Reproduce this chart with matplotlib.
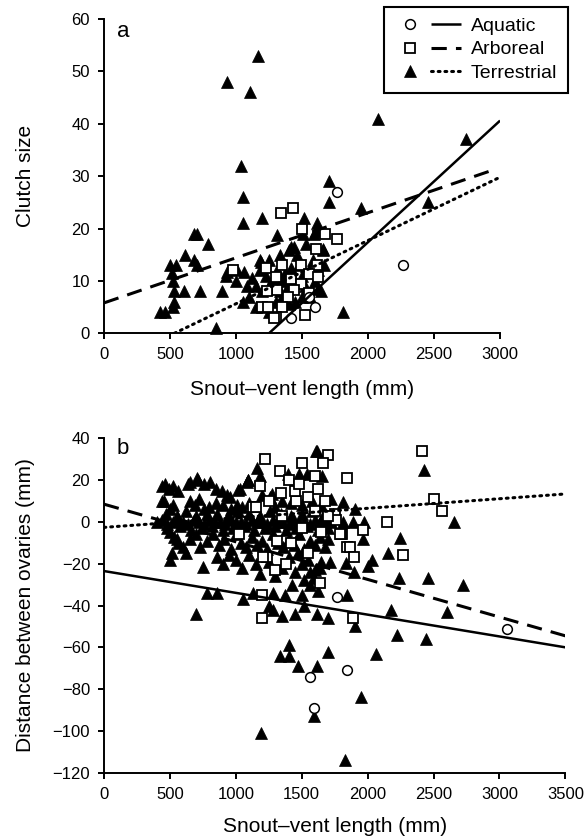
import matplotlib

matplotlib.use("Agg")
import matplotlib.pyplot as plt  # noqa: E402
from matplotlib.lines import Line2D  # noqa: E402
from matplotlib.legend_handler import HandlerTuple  # noqa: E402

plt.rcParams["font.family"] = ["Liberation Sans", "DejaVu Sans"]

# ---- panel a: clutch size vs SVL ----
aq_a_x = [1766, 2265, 1600, 1555, 1415]
aq_a_y = [27, 13, 5, 7, 3]

arb_a_x = [1340, 1435, 1500, 1675, 1765, 980, 1605, 1610, 1225, 1352, 1492, 1555, 1618,
           1301, 1415, 1492, 1440, 1314, 1238, 1555, 1390, 1200, 1352, 1301, 1290, 1240, 1520]
arb_a_y = [23, 24, 20, 19, 18, 12, 16, 13, 12.4, 13, 13, 11.4, 10.8,
           10.8, 10.4, 9.5, 8.3, 8.3, 8, 7.6, 7, 5, 5, 3.2, 3, 5, 3.5]

ter_a_x = [1167, 928, 1103, 1035, 1055, 1055, 1197, 1702, 1707, 2075, 2742, 2456, 1948, 1809,
           680, 705, 786, 611, 680, 705, 502, 543, 512, 520, 530, 604, 726, 896, 530, 525,
           426, 464, 845, 921, 1010, 1314, 1182, 1517, 1613, 1505, 1593, 1416, 1440, 1657,
           1124, 1150, 1180, 1200, 1230, 1250, 1280, 1310, 1330, 1350, 1370, 1390, 1420, 1450,
           1480, 1500, 1520, 1550, 1580, 1600, 1620, 1640, 1670, 1100, 1150, 1200, 1250, 1300,
           1350, 1400, 1450, 1500, 1560, 1620, 934, 1060, 1187, 1403, 1460, 1530, 1656, 1606,
           1250, 1330, 1080, 1000, 1050]
ter_a_y = [53, 48, 46, 32, 26, 21, 22, 29, 25, 41, 37, 25, 24, 4,
           19, 19, 17, 15, 14, 13, 13, 13, 11.5, 10, 8, 8, 8, 8, 6, 5,
           4, 4, 1, 11, 12, 18.7, 14, 22, 21, 19, 19, 16.5, 16.5, 16,
           10.5, 9, 12, 8, 11, 9, 10.5, 12, 8, 10, 11.5, 9, 12.5, 10,
           13, 11, 9, 12, 14, 10, 12, 8, 13, 7, 5, 5, 4, 6,
           7, 5.5, 6, 7, 7, 8.5, 11.7, 11.7, 13.6, 15.9, 15, 17, 15.9, 19.6,
           14, 15, 9, 10, 6]

# fitted lines (end points)
fit_a_aq_x, fit_a_aq_y = [1250, 3000], [0, 40.6]
fit_a_arb_x, fit_a_arb_y = [0, 2950], [5.8, 31.2]
fit_a_ter_x, fit_a_ter_y = [533, 3000], [0, 29.8]

# ---- panel b: distance between ovaries vs SVL ----
aq_b_x = [1765, 1560, 1590, 1840, 3055]
aq_b_y = [-36, -74, -89, -71, -51]

arb_b_x = [1200, 1200, 1640, 1842, 1222, 1500, 1703, 1665, 1627, 1133, 1022, 1804, 1842, 1298,
           1234, 2411, 2500, 2565, 2150, 1755, 1760, 1968, 1796, 1867, 1898, 2267, 1888, 1336,
           1180, 1345, 1459, 1155, 1310, 1209, 1791, 1400, 1450, 1550, 1600, 1500, 1420, 1550,
           1650, 1700, 1350, 1250, 1480, 1600, 1380, 1680]
arb_b_y = [-46, -35, -29, 21, 30, 28, 32, 28, 16, 7, -6, -6, -12, -23,
           -17, 34, 11, 5, 0, 4, 1, -4, -6, -12, -17, -16, -46, 24.5,
           17, 14, 10, 7, -9, -17, -6, 20, 15, 12, 5, -3, -10, -15,
           -5, 3, 3, 10, 18, 22, -20, 10]

ter_b_x = [437, 463, 490, 526, 560, 640, 653, 708, 716, 760, 804, 850, 893, 930, 956, 1019,
           1032, 1083, 1093, 1159, 1096, 1180, 1399, 1480, 1538, 1614, 1652, 1273,
           437, 454, 501, 520, 653, 690, 720, 760, 800, 850, 900, 960, 1010, 1050, 1100, 1200,
           1260, 1300, 1350, 1420, 1500, 1580, 1650, 1720, 1816, 1905,
           400, 440, 480, 520, 560, 600, 640, 680, 720, 760, 800, 840, 880, 920, 960, 1000,
           1040, 1080, 1120, 1160, 1200, 1240, 1280, 1320, 1360, 1400, 1440, 1480, 1520, 1560,
           1600, 1640, 1680, 1720, 1810, 1890, 1970, 2655,
           470, 550, 620, 700, 780, 860, 940, 1020, 1100, 1180, 1260, 1340, 1420, 1500, 1580,
           1660, 1740,
           480, 580, 660, 740, 820, 900, 980, 1060, 1140, 1220, 1300, 1380, 1460, 1540, 1620,
           1700,
           500, 530, 560, 600, 650, 700, 730, 780, 830, 870, 910, 960, 1000, 1040, 1080, 1120,
           1160, 1200, 1240, 1280, 1320, 1360, 1400, 1440, 1480, 1520, 1560, 1600, 1640, 1680,
           1700, 1963, 2247, 2158,
           501, 515, 551, 754, 855, 900, 1000, 1050, 1100, 1150, 1184, 1250, 1350, 1400, 1450,
           1500, 1550, 1600, 1650, 1715, 1837, 2032, 2006, 1898, 1590, 1520,
           620, 950, 1300, 1470, 1560, 1640,
           1285, 1425, 1560, 1620, 1842, 1057, 1128, 784, 855, 2241, 2457, 2727, 1370, 1500,
           1285, 1450, 1614, 1703, 1905, 1250, 1350, 1520, 2178, 2601, 698,
           2221, 2444, 2064, 1951, 1830, 1190, 1336, 1404, 1404, 1475, 1614, 1703, 1590, 2430,
           1610]
ter_b_y = [17, 18, 16, 17, 15, 18, 19, 21, 20, 18, 19, 16, 15, 13, 12, 15.5,
           16, 19, 20, 26, 20, 22, 23, 23, 23, 34, 22, 13.6,
           10, 10, 6, 8, 10, 8, 11, 6, 7, 9, 8, 6, 8, 7, 9, 13,
           12, 7, 10, 9, 8, 10, 8, 11, 9.6, 6.4,
           0, 1, -1, 0, 2, 0, -1, 1, 0, -1, 1, 0, 0, -1, 1, 0,
           0, -1, 1, 0, 0, -1, 1, 0, 0, -1, 1, 0, 0, -1,
           1, 0, 0, 0, 0, 0, 0, 0,
           4, 3, 5, 3, 4, 4, 3, 5, 4, 3, 5, 4, 3, 4, 5,
           3, 4,
           -3, -2, -4, -3, -2, -4, -3, -2, -4, -3, -2, -4, -3, -2, -4,
           -3,
           -5, -7, -10, -12, -8, -6, -12, -9, -6, -11, -8, -13, -6, -10, -12, -7,
           -11, -9, -13, -6, -10, -12, -8, -11, -6, -13, -9, -11, -7, -12,
           -8, -8, -7.5, -15,
           -18, -15, -8, -21.6, -17, -20, -18, -22, -16, -20, -25, -19, -22, -17, -24,
           -20, -18, -23, -19, -19, -19.5, -18, -21, -24, -27, -28,
           -15, -16, -26, -15, -24, -22,
           -34, -30, -30, -33, -35, -37, -34, -34, -34, -27, -27, -30, -35, -35,
           -42, -44, -44, -46, -50, -40, -45, -40, -42, -43, -44,
           -54, -56, -63, -84, -114, -101, -64, -59, -64, -69, -69, -62, -93, 25,
           34]

fit_b_aq_x, fit_b_aq_y = [0, 3500], [-23.5, -60]
fit_b_arb_x, fit_b_arb_y = [0, 3500], [8.5, -54.5]
fit_b_ter_x, fit_b_ter_y = [0, 3480], [-2.6, 13.3]

fig = plt.figure(figsize=(5.85, 8.38), dpi=100)
ax_a = fig.add_axes([0.1778, 0.6023, 0.677, 0.375])
ax_b = fig.add_axes([0.1778, 0.0779, 0.7886, 0.399])

circ = dict(ls="none", marker="o", ms=7, mfc="white", mec="black", mew=1.1, clip_on=False)
sq = dict(ls="none", marker="s", ms=7.5, mfc="white", mec="black", mew=1.3, clip_on=False)
tri = dict(ls="none", marker="^", ms=8.5, mfc="black", mec="black", mew=0.5, clip_on=False)
solid = dict(color="black", lw=1.8, ls="-", solid_capstyle="butt")
dashed = dict(color="black", lw=2.2, ls=(0, (5, 3)), dash_capstyle="butt")
dotted = dict(color="black", lw=2.2, ls=(0, (0.6, 1.6)), dash_capstyle="round")


def draw(ax, aq, arb, ter, fits):
    ax.plot(*ter, **tri)
    ax.plot(*arb, **sq)
    ax.plot(*aq, **circ)
    ax.plot(*fits[0], **solid)
    ax.plot(*fits[1], **dashed)
    ax.plot(*fits[2], **dotted)
    for side in ("top", "right"):
        ax.spines[side].set_visible(False)
    for side in ("left", "bottom"):
        ax.spines[side].set_linewidth(1.4)
    ax.tick_params(direction="out", length=4.5, width=1.4, labelsize=12, pad=5.5)


draw(ax_a, (aq_a_x, aq_a_y), (arb_a_x, arb_a_y), (ter_a_x, ter_a_y),
     [(fit_a_aq_x, fit_a_aq_y), (fit_a_arb_x, fit_a_arb_y), (fit_a_ter_x, fit_a_ter_y)])
ax_a.set_xlim(0, 3000)
ax_a.set_ylim(0, 60)
ax_a.set_xticks(range(0, 3001, 500))
ax_a.set_yticks(range(0, 61, 10))
ax_a.set_xlabel("Snout\u2013vent length (mm)", fontsize=15, labelpad=13)
ax_a.set_ylabel("Clutch size", fontsize=15)
ax_a.yaxis.set_label_coords(-0.174, 0.5)
ax_a.text(0.033, 0.995, "a", transform=ax_a.transAxes, fontsize=16, va="top", ha="left")

draw(ax_b, (aq_b_x, aq_b_y), (arb_b_x, arb_b_y), (ter_b_x, ter_b_y),
     [(fit_b_aq_x, fit_b_aq_y), (fit_b_arb_x, fit_b_arb_y), (fit_b_ter_x, fit_b_ter_y)])
ax_b.set_xlim(0, 3500)
ax_b.set_ylim(-120, 40)
ax_b.set_xticks(range(0, 3501, 500))
ax_b.set_yticks(range(-120, 41, 20))
ax_b.set_yticklabels([str(v).replace("-", "\u2212") for v in range(-120, 41, 20)])
ax_b.set_xlabel("Snout\u2013vent length (mm)", fontsize=15, labelpad=11)
ax_b.set_ylabel("Distance between ovaries (mm)", fontsize=15)
ax_b.yaxis.set_label_coords(-0.150, 0.5)
ax_b.text(0.028, 1.0, "b", transform=ax_b.transAxes, fontsize=16, va="top", ha="left")

h_aq = (Line2D([], [], **{k: v for k, v in circ.items() if k != "clip_on"}), Line2D([], [], **solid))
h_arb = (Line2D([], [], **{k: v for k, v in sq.items() if k != "clip_on"}), Line2D([], [], **dashed))
h_ter = (Line2D([], [], **{k: v for k, v in tri.items() if k != "clip_on"}), Line2D([], [], **dotted))
leg = fig.legend([h_aq, h_arb, h_ter], ["Aquatic", "Arboreal", "Terrestrial"],
                 handler_map={tuple: HandlerTuple(ndivide=None, pad=0.3)},
                 loc="upper right", bbox_to_anchor=(0.971, 0.992), fontsize=14,
                 handlelength=3.4, handletextpad=0.5, labelspacing=0.3, borderpad=0.55,
                 fancybox=False, edgecolor="black", framealpha=1, borderaxespad=0)
leg.get_frame().set_linewidth(1.5)

fig.savefig("out.png", dpi=100)
